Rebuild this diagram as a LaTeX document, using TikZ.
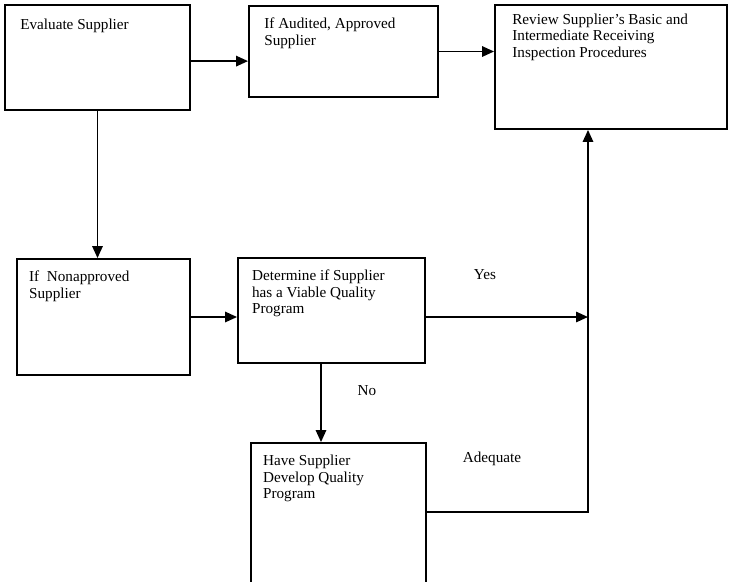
\documentclass[tikz,border=0pt]{standalone}
\usepackage{fontspec}
\setmainfont{Liberation Serif}
\usetikzlibrary{arrows.meta}
\tikzset{
  box/.style={shape=rectangle,draw=black,line width=1.3pt,inner sep=0pt},
  txt/.style={anchor=north west,align=left,inner xsep=0.4cm,inner ysep=0.32cm,font=\fontsize{10.8}{11.6}\selectfont},
  tag/.style={font=\fontsize{10.8}{11.6}\selectfont},
  arr/.style={line width=1.3pt,-{Triangle[length=0.3cm,width=0.26cm]}}
}

\begin{document}
\begin{tikzpicture}[x=0.025cm,y=-0.025cm]
\useasboundingbox (0,0) rectangle (729,581);
\clip (0,0) rectangle (729,581);
% boxes
\node[box,minimum width=4.625cm,minimum height=2.625cm,label={[txt,inner ysep=0.36cm]north west:Evaluate Supplier}] (eval) at (97.5,57.5) {};
\node[box,minimum width=4.725cm,minimum height=2.275cm,label={[txt]north west:If Audited, Approved\\Supplier}] (audit) at (343.5,51.5) {};
\node[box,minimum width=5.8cm,minimum height=3.1cm,label={[txt,inner xsep=0.45cm,inner ysep=0.24cm]north west:Review Supplier's Basic and\\Intermediate Receiving\\Inspection Procedures}] (review) at (611,67) {};
\node[box,minimum width=4.325cm,minimum height=2.9cm,label={[txt,inner xsep=0.32cm]north west:If\ \ Nonapproved\\Supplier}] (nonappr) at (103.5,317) {};
\node[box,minimum width=4.675cm,minimum height=2.625cm,label={[txt,inner xsep=0.37cm]north west:Determine if Supplier\\has a Viable Quality\\Program}] (determ) at (331.5,310.5) {};
\node[box,minimum width=4.375cm,minimum height=3.925cm,label={[txt,inner xsep=0.32cm]north west:Have Supplier\\Develop Quality\\Program}] (develop) at (338.5,521.5) {};
% labels
\node[tag] (yes) at (485,275) {Yes};
\node[tag] (no) at (367,391) {No};
\node[tag] (adeq) at (492,459) {Adequate};
% joins
\coordinate (yesend) at (588,317);
\coordinate (nodrop) at (321,0);
\coordinate (adqturn) at (588,512);
% connectors
\draw[arr] ([yshift=-0.09cm]eval.east) -- ([yshift=-0.09cm]eval.east -| audit.west);
\draw[arr] (audit.east) -- (audit.east -| review.west);
\draw[arr] (eval.south) -- (eval.south |- nonappr.north);
\draw[arr] (nonappr.east) -- (nonappr.east -| determ.west);
\draw[arr] (yesend -| determ.east) -- (yesend);
\draw[arr] (nodrop |- determ.south) -- (nodrop |- develop.north);
\draw[arr] (adqturn -| develop.east) -- (adqturn) -- (adqturn |- review.south);
\end{tikzpicture}
\end{document}
